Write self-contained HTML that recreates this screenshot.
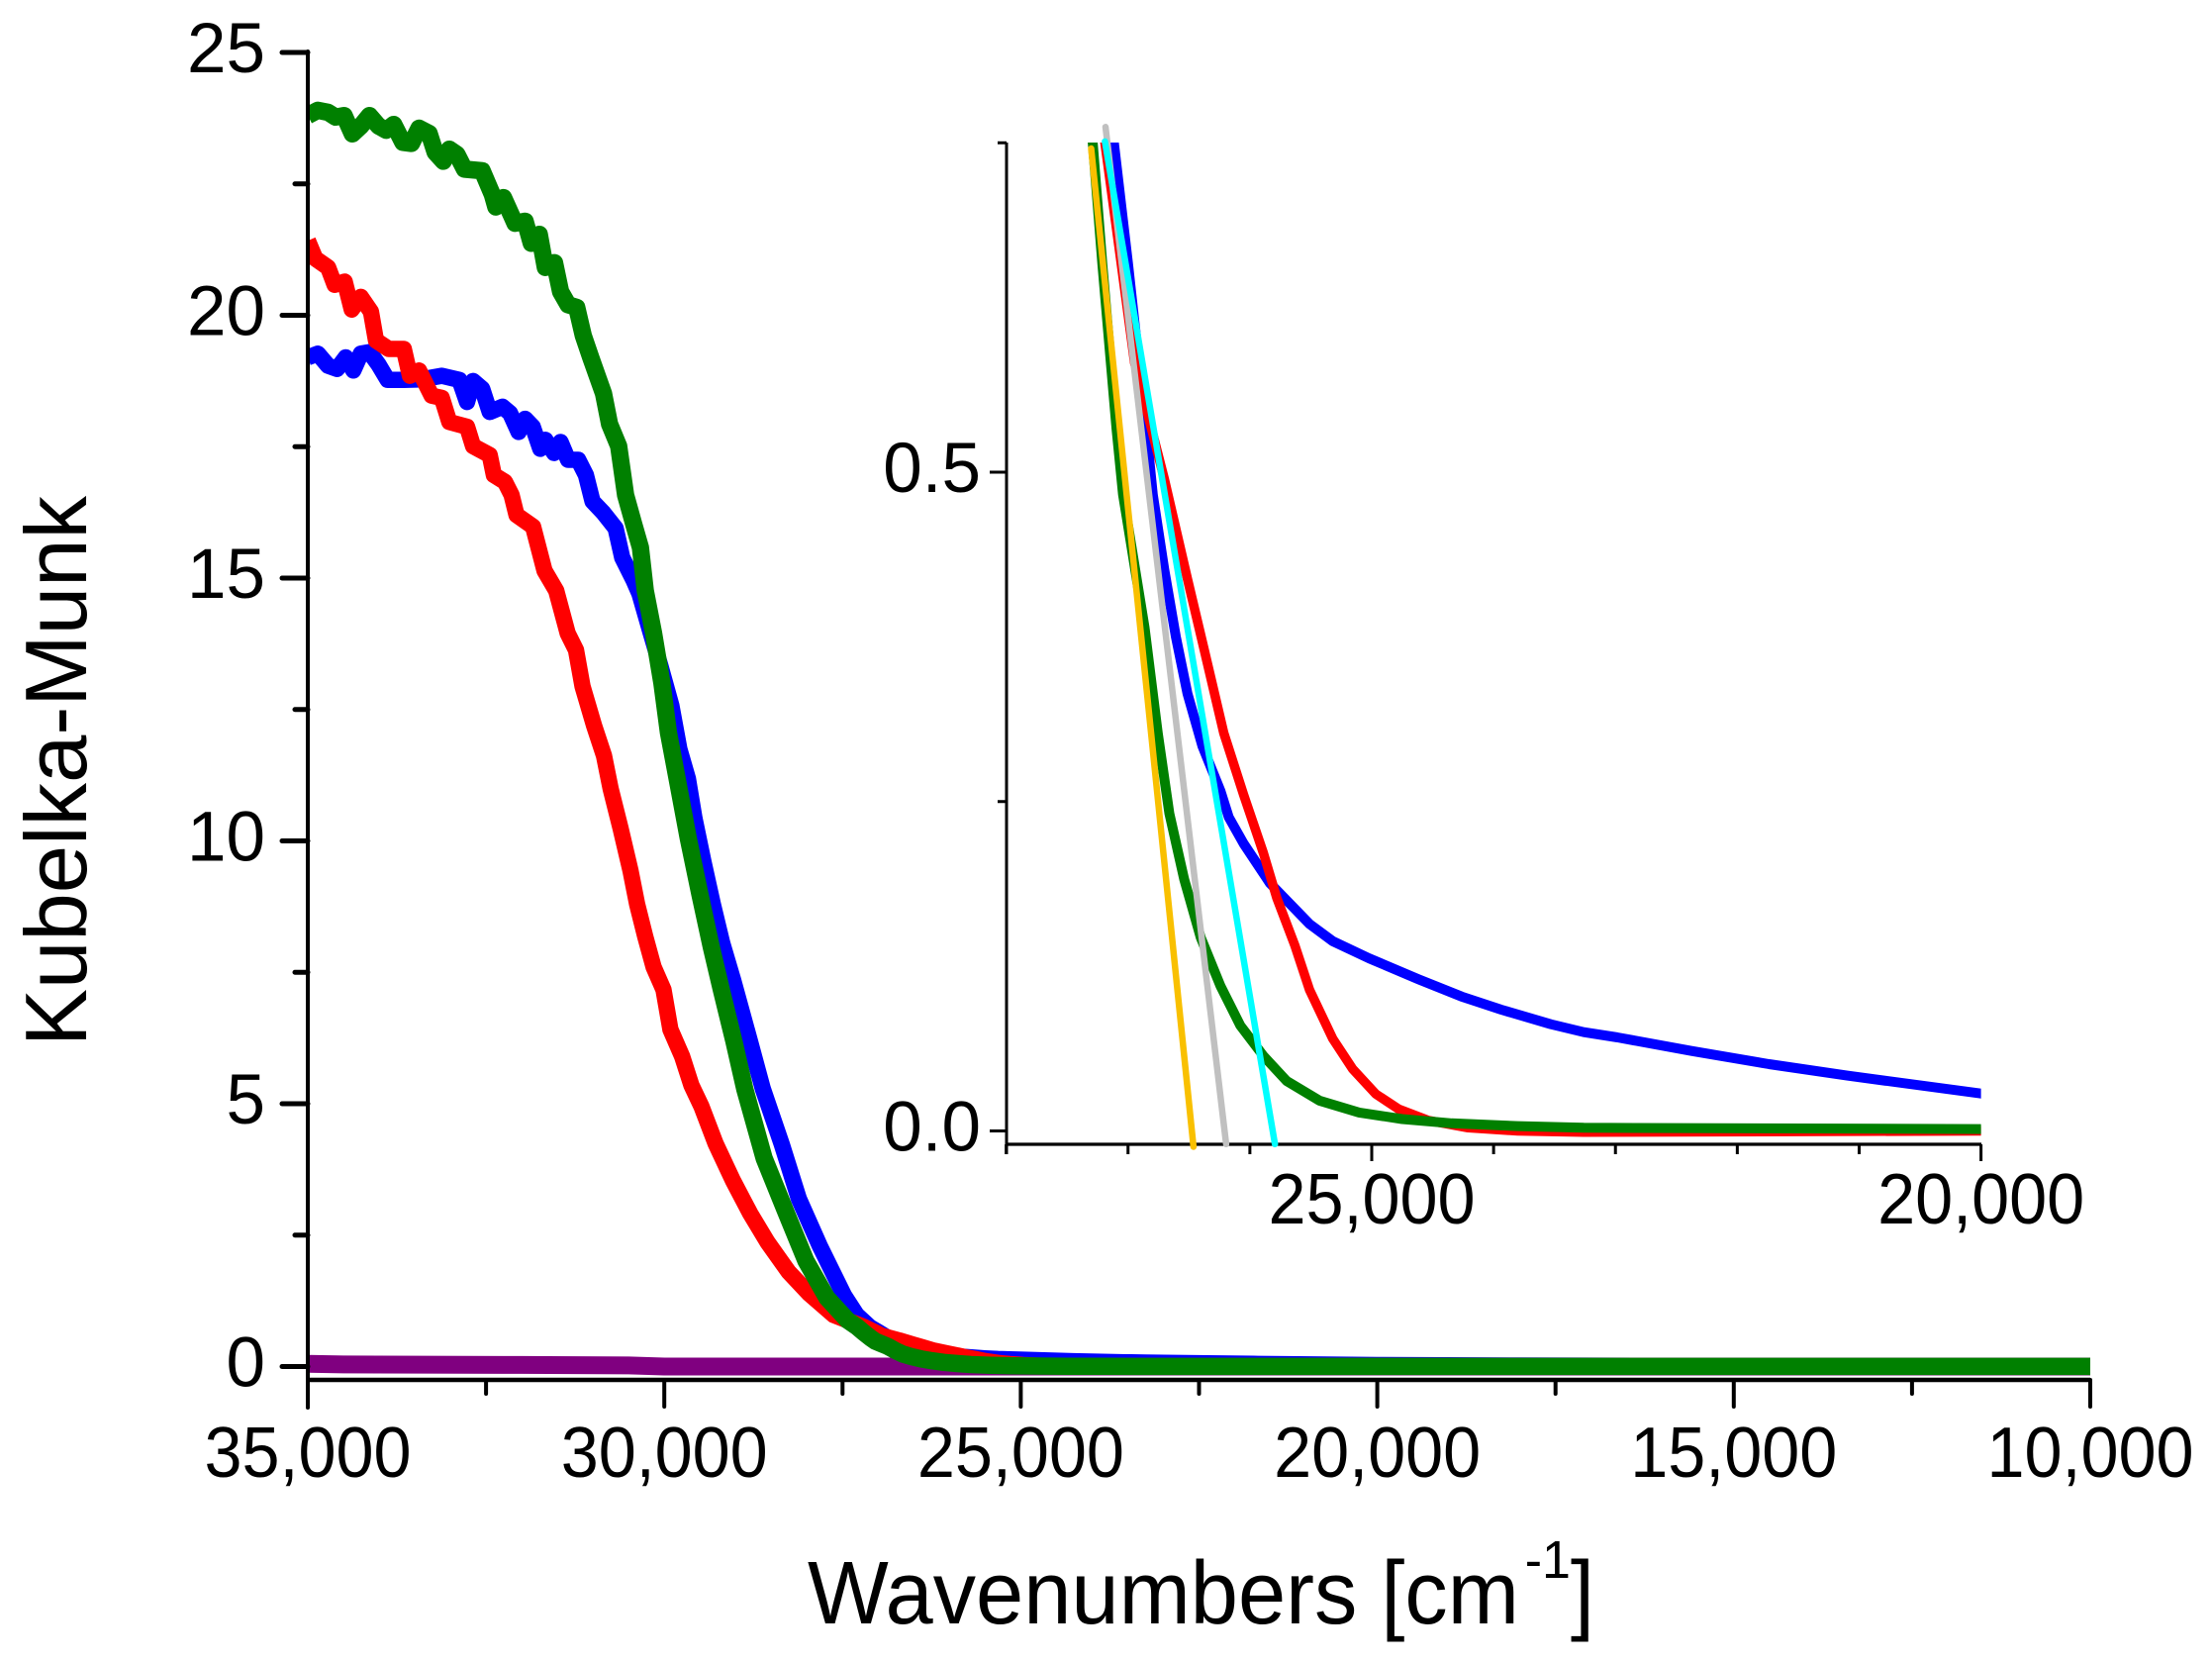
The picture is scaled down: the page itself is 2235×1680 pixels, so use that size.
<!DOCTYPE html>
<html lang="en">
<head>
<meta charset="utf-8">
<title>Kubelka-Munk spectra</title>
<style>
  html, body { margin: 0; padding: 0; background: #fff; }
  svg { display: block; }
  text { font-family: "Liberation Sans", Arial, sans-serif; fill: #000; }
</style>
</head>
<body>
<svg id="chart" xmlns="http://www.w3.org/2000/svg" width="2235" height="1680" viewBox="0 0 2235 1680">
  <rect x="0" y="0" width="2235" height="1680" fill="#ffffff"/>
  <defs>
    <clipPath id="main-clip"><rect x="309" y="30" width="1803" height="1370"/></clipPath>
    <clipPath id="inset-clip"><rect x="1017" y="144" width="984.6" height="1012"/></clipPath>
  </defs>
  <g id="main-series" clip-path="url(#main-clip)"></g>
  <g id="main-axes"></g>
  <g id="inset-axes"></g>
  <g id="inset-series" clip-path="url(#inset-clip)"></g>
  <g id="inset-fits"></g>
  <text x="816" y="1640" font-size="90" textLength="795" lengthAdjust="spacingAndGlyphs">Wavenumbers [cm<tspan dy="-46" dx="6" font-size="54">-1</tspan><tspan dy="46">]</tspan></text>
  <text transform="translate(87 779) rotate(-90)" text-anchor="middle" font-size="88" textLength="556" lengthAdjust="spacingAndGlyphs">Kubelka-Munk</text>
</svg>
<script>
const blueWn = [35000,34858,34716,34589,34468,34362,34256,34135,34007,33880,33653,33405,33121,32873,32767,32682,32554,32448,32270,32164,32043,31951,31845,31739,31668,31547,31455,31349,31207,31100,31007,30852,30683,30590,30428,30349,30200,30053,29900,29789,29668,29576,29451,29320,29187,29034,28800,28617,28355,28112,27818,27478,27300,27116,27000,26851,26797,26702,26607,26512,26390,26241,26173,26051,25835,25510,25320,25022,24615,24263,23937,23531,23260,22984,22376,21740,21098,20000,18000,15000,10000];
const blueKm = [19.2,19.27,19.04,18.98,19.2,18.95,19.27,19.3,19.06,18.77,18.77,18.78,18.85,18.77,18.35,18.75,18.6,18.16,18.26,18.14,17.78,18.03,17.88,17.46,17.63,17.38,17.59,17.25,17.25,16.96,16.46,16.24,15.95,15.39,14.95,14.7,14.0,13.32,12.57,11.75,11.18,10.43,9.61,8.8,8.05,7.35,6.2,5.28,4.24,3.19,2.29,1.35,0.98,0.75,0.658,0.533,0.483,0.426,0.375,0.332,0.292,0.258,0.238,0.218,0.188,0.157,0.144,0.131,0.115,0.102,0.092,0.081,0.075,0.071,0.0607,0.0507,0.042,0.0284,0.018,0.012,0.008];

const redWn = [35000,34894,34716,34624,34482,34383,34256,34114,34043,33866,33653,33568,33440,33263,33121,33015,32767,32682,32448,32391,32235,32142,32072,31841,31679,31516,31355,31238,31146,30984,30845,30752,30613,30474,30382,30265,30150,30011,29914,29750,29620,29480,29280,29038,28794,28549,28257,27965,27624,27400,27190,26946,26702,26512,26377,26214,26051,25889,25780,25632,25510,25320,25157,24967,24778,24534,24209,23803,23260,20000,10000];
const redKm = [21.42,21.08,20.91,20.58,20.64,20.11,20.35,20.07,19.52,19.36,19.36,18.85,18.95,18.47,18.43,17.97,17.88,17.51,17.34,16.96,16.83,16.58,16.2,15.98,15.14,14.76,13.95,13.63,12.94,12.19,11.62,10.99,10.24,9.43,8.8,8.17,7.6,7.17,6.41,5.9,5.35,4.95,4.24,3.54,2.91,2.36,1.8,1.38,0.98,0.86,0.75,0.583,0.495,0.419,0.366,0.302,0.255,0.211,0.177,0.141,0.107,0.07,0.047,0.028,0.0165,0.008,0.0024,0,-0.001,0,0];

const greenWn = [35000,34858,34716,34610,34490,34376,34256,34135,34007,33901,33795,33667,33547,33440,33298,33213,33100,33015,32908,32802,32554,32412,32362,32256,32093,31951,31866,31753,31668,31540,31455,31349,31228,31136,31030,30852,30767,30640,30543,30428,30335,30266,30150,30034,29942,29803,29664,29501,29340,29201,29025,28872,28599,28306,28013,27721,27429,27290,27211,27095,27041,26864,26756,26661,26539,26404,26241,26079,25889,25699,25428,25103,24750,24344,23803,23260,20000,10000];
const greenKm = [23.8,23.9,23.86,23.77,23.8,23.45,23.6,23.8,23.6,23.52,23.63,23.29,23.27,23.56,23.46,23.1,22.93,23.16,23.06,22.78,22.75,22.3,22.06,22.24,21.75,21.79,21.37,21.54,20.91,21.0,20.45,20.2,20.15,19.61,19.19,18.51,17.93,17.51,16.58,16.02,15.58,14.76,13.95,13.0,12.06,11.06,10.05,8.99,7.98,7.17,6.2,5.28,3.96,2.98,2.01,1.31,0.88,0.75,0.658,0.533,0.483,0.382,0.302,0.241,0.191,0.147,0.11,0.08,0.057,0.038,0.023,0.014,0.009,0.0058,0.0037,0.0024,0.0014,0.001];

const purpleWn = [35000,34500,32000,30500,30000,25000,10000];
const purpleKm = [0.05,0.04,0.03,0.02,0,0,0];

const yellowFitWn = [27303,26463];
const yellowFitKm = [0.7457,-0.012];
const greyFitWn = [27185,26195];
const greyFitKm = [0.762,-0.01];
const cyanFitWn = [27190,25794];
const cyanFitKm = [0.751,-0.01];

const mainXMajor = [35000,30000,25000,20000,15000,10000];
const mainXMinor = [32500,27500,22500,17500,12500];
const mainXLabels = ['35,000','30,000','25,000','20,000','15,000','10,000'];
const mainYMajor = [0,5,10,15,20,25];
const mainYMinor = [2.5,7.5,12.5,17.5,22.5];
const mainYLabels = ['0','5','10','15','20','25'];

const insetXMajor = [25000,20000];
const insetXMinor = [28000,27000,26000,24000,23000,22000,21000];
const insetXLabels = ['25,000','20,000'];
const insetYMajor = [0,0.5];
const insetYMinor = [0.25,0.75];
const insetYLabels = ['0.0','0.5'];

const NS = 'http://www.w3.org/2000/svg';
const mainSeries = document.getElementById('main-series');
const mainAxes = document.getElementById('main-axes');
const insetSeries = document.getElementById('inset-series');
const insetAxes = document.getElementById('inset-axes');
const insetFits = document.getElementById('inset-fits');

function mainX(w) { return 311 + (35000 - w) * 1801 / 25000; }
function mainY(v) { return 1380.5 - v * 53.1; }
function insetX(w) { return 1386 + (25000 - w) * 615.6 / 5000; }
function insetY(v) { return 1142.5 - v * 1331; }

function pointsFor(wn, km, fx, fy) {
  return wn.map(function (w, i) { return fx(w).toFixed(1) + ',' + fy(km[i]).toFixed(1); }).join(' ');
}
function curve(parent, wn, km, fx, fy, color, width, cap) {
  const p = document.createElementNS(NS, 'polyline');
  p.setAttribute('points', pointsFor(wn, km, fx, fy));
  p.setAttribute('fill', 'none');
  p.setAttribute('stroke', color);
  p.setAttribute('stroke-width', width);
  p.setAttribute('stroke-linejoin', 'round');
  p.setAttribute('stroke-linecap', cap);
  parent.appendChild(p);
  return p;
}
function seg(parent, x1, y1, x2, y2, width, cap) {
  const l = document.createElementNS(NS, 'line');
  l.setAttribute('x1', x1);
  l.setAttribute('y1', y1);
  l.setAttribute('x2', x2);
  l.setAttribute('y2', y2);
  l.setAttribute('stroke', '#000');
  l.setAttribute('stroke-width', width);
  l.setAttribute('stroke-linecap', cap);
  parent.appendChild(l);
  return l;
}
function label(parent, x, y, str, anchor, size, fitWidth) {
  const t = document.createElementNS(NS, 'text');
  t.setAttribute('x', x);
  t.setAttribute('y', y);
  t.setAttribute('font-size', size);
  t.setAttribute('text-anchor', anchor);
  if (fitWidth) {
    t.setAttribute('textLength', fitWidth);
    t.setAttribute('lengthAdjust', 'spacingAndGlyphs');
  }
  t.textContent = str;
  parent.appendChild(t);
  return t;
}

/* main series */
let el;
el = curve(mainSeries, blueWn, blueKm, mainX, mainY, '#0000ff', 16.5, 'butt');


el = curve(mainSeries, redWn, redKm, mainX, mainY, '#ff0000', 16.5, 'butt');


el = curve(mainSeries, purpleWn, purpleKm, mainX, mainY, '#800080', 18, 'butt');


el = curve(mainSeries, greenWn, greenKm, mainX, mainY, '#008000', 17.5, 'butt');



/* main axes */
el = seg(mainAxes, 311, 52, 311, 1422, 4, 'round');


el = seg(mainAxes, 311, 1394, 2112, 1394, 4.5, 'butt');


mainXMajor.forEach(function (w, i) {
  const tick = seg(mainAxes, mainX(w), 1394, mainX(w), 1421, 4, 'round');
  
  
  const txt = label(mainAxes, mainX(w), 1492, mainXLabels[i], 'middle', 72, 209);
  
  
});
mainXMinor.forEach(function (w) {
  const tick = seg(mainAxes, mainX(w), 1394, mainX(w), 1408, 4, 'round');
  
  
});
mainYMajor.forEach(function (v, i) {
  const tick = seg(mainAxes, 285, mainY(v), 311, mainY(v), 5, 'round');
  
  
  const txt = label(mainAxes, 268, mainY(v) + 20, mainYLabels[i], 'end', 71);
  
  
});
mainYMinor.forEach(function (v) {
  const tick = seg(mainAxes, 298, mainY(v), 311, mainY(v), 5, 'round');
  
  
});

/* inset axes */
el = seg(insetAxes, 1017, 144, 1017, 1166, 3, 'butt');


el = seg(insetAxes, 1017, 1156, 2002, 1156, 3.2, 'butt');


insetXMajor.forEach(function (w, i) {
  const tick = seg(insetAxes, insetX(w), 1156, insetX(w), 1173, 3, 'butt');
  
  
  const txt = label(insetAxes, insetX(w), 1236, insetXLabels[i], 'middle', 72, 209);
  
  
});
insetXMinor.forEach(function (w) {
  const tick = seg(insetAxes, insetX(w), 1156, insetX(w), 1166, 3, 'butt');
  
  
});
insetYMajor.forEach(function (v, i) {
  const tick = seg(insetAxes, 1000, insetY(v), 1017, insetY(v), 3, 'butt');
  
  
  const txt = label(insetAxes, 991, insetY(v) + 20, insetYLabels[i], 'end', 71);
  
  
});
insetYMinor.forEach(function (v) {
  const tick = seg(insetAxes, 1008, insetY(v), 1017, insetY(v), 3, 'butt');
  
  
});

/* inset series */
el = curve(insetSeries, blueWn, blueKm, insetX, insetY, '#0000ff', 10, 'butt');


el = curve(insetSeries, redWn, redKm, insetX, insetY, '#ff0000', 9.5, 'butt');


el = curve(insetSeries, greenWn, greenKm, insetX, insetY, '#008000', 10, 'butt');



/* tangent lines */
el = curve(insetFits, greyFitWn, greyFitKm, insetX, insetY, '#c0c0c0', 6.5, 'round');


el = curve(insetFits, yellowFitWn, yellowFitKm, insetX, insetY, '#f9c000', 6.5, 'round');


el = curve(insetFits, cyanFitWn, cyanFitKm, insetX, insetY, '#00ffff', 6.5, 'round');


</script>
</body>
</html>
